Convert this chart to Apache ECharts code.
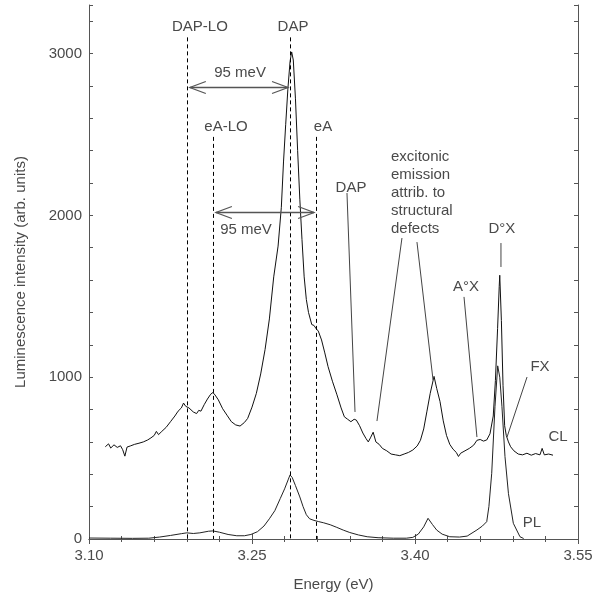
<!DOCTYPE html>
<html>
<head>
<meta charset="utf-8">
<script src="https://cdn.jsdelivr.net/npm/echarts@6/dist/echarts.min.js"></script>
<style>
  html, body { margin: 0; padding: 0; background: #fff; }
  #chart { width: 603px; height: 600px; }
</style>
</head>
<body>
<div id="chart"></div>
<script>
// CL spectrum
const clEnergy = [3.115, 3.118, 3.120, 3.123, 3.126, 3.129, 3.131, 3.133, 3.135, 3.138, 3.142, 3.146, 3.150, 3.154,
  3.157, 3.160, 3.162, 3.164, 3.167, 3.171, 3.175, 3.179, 3.182, 3.185, 3.187, 3.189, 3.192, 3.196, 3.199, 3.201,
  3.203, 3.206, 3.209, 3.212, 3.214, 3.216, 3.219, 3.223, 3.227, 3.231, 3.235, 3.239, 3.243, 3.246, 3.250, 3.254,
  3.258, 3.262, 3.266, 3.270, 3.274, 3.277, 3.279, 3.281, 3.283, 3.285, 3.2865, 3.288, 3.290, 3.292, 3.294, 3.296,
  3.298, 3.300, 3.302, 3.305, 3.307, 3.309, 3.311, 3.314, 3.317, 3.320, 3.324, 3.328, 3.332, 3.335, 3.338, 3.341,
  3.344, 3.346, 3.349, 3.352, 3.355, 3.357, 3.359, 3.3615, 3.364, 3.367, 3.370, 3.374, 3.378, 3.382, 3.386, 3.390,
  3.394, 3.398, 3.402, 3.405, 3.408, 3.411, 3.414, 3.4175, 3.420, 3.423, 3.426, 3.429, 3.432, 3.435, 3.438, 3.440,
  3.442, 3.446, 3.450, 3.454, 3.457, 3.460, 3.463, 3.466, 3.469, 3.472, 3.474, 3.476, 3.4775, 3.478, 3.4795, 3.481,
  3.4825, 3.484, 3.486, 3.488, 3.491, 3.495, 3.499, 3.503, 3.507, 3.511, 3.515, 3.517, 3.519, 3.523, 3.527];
const clIntensity = [570, 588, 562, 582, 566, 576, 552, 512, 568, 575, 585, 592, 600, 612,
  625, 640, 665, 645, 665, 690, 725, 760, 790, 810, 840, 820, 810, 785, 775, 795,
  790, 830, 865, 895, 905, 890, 860, 805, 765, 725, 705, 698, 720, 745, 815, 900,
  1020, 1170, 1360, 1620, 1810, 2050, 2330, 2560, 2780, 2950, 3010, 2960, 2720, 2400, 2100, 1850,
  1620, 1480, 1400, 1325, 1320, 1300, 1285, 1230, 1150, 1065, 975, 895, 810, 755, 740, 725,
  740, 735, 700, 655, 620, 600, 625, 660, 600, 585, 560, 545, 525, 520, 515, 525,
  535, 550, 575, 610, 680, 790, 900, 1005, 930, 850, 730, 640, 585, 555, 535, 510,
  530, 545, 560, 580, 610, 615, 605, 612, 650, 760, 980, 1300, 1560, 1630, 1350, 950,
  700, 640, 600, 570, 545, 525, 520, 530, 518, 528, 520, 560, 520, 525, 518];

// PL spectrum
const plEnergy = [3.100, 3.120, 3.140, 3.155, 3.165, 3.175, 3.185, 3.190, 3.196, 3.202, 3.210, 3.214, 3.220, 3.228,
  3.236, 3.243, 3.249, 3.255, 3.261, 3.266, 3.271, 3.276, 3.280, 3.2835, 3.285, 3.287, 3.290, 3.294, 3.297, 3.300,
  3.303, 3.307, 3.311, 3.316, 3.322, 3.328, 3.334, 3.340, 3.348, 3.356, 3.366, 3.380, 3.392, 3.398, 3.403, 3.408,
  3.412, 3.416, 3.420, 3.425, 3.432, 3.441, 3.448, 3.457, 3.462, 3.466, 3.468, 3.4706, 3.4736, 3.4761, 3.478,
  3.480, 3.4828, 3.486, 3.4905, 3.4966, 3.500];
const plIntensity = [6, 5, 4, 5, 12, 22, 33, 38, 34, 38, 48, 50, 42, 28,
  20, 20, 28, 45, 80, 125, 175, 250, 310, 370, 396, 380, 330, 260, 200, 150,
  125, 115, 108, 100, 88, 72, 55, 40, 25, 14, 8, 5, 5, 10, 30, 75,
  128, 90, 55, 30, 14, 12, 18, 56, 80, 107, 200, 406, 818, 1070, 1000,
  820, 510, 280, 97, 14, 3];

const xTicks = [3.10, 3.25, 3.40, 3.55];
const yTicks = [0, 1000, 2000, 3000];

// annotation layout (energy, intensity)
const dashLines = [[3.190, 3100], [3.285, 3100], [3.214, 2485], [3.309, 2485]];
const spanArrows = [[3.190, 3.285, 2793], [3.214, 3.309, 2021]];
const leaders = [
  [3.3374, 2138, 3.3448, 785],
  [3.3880, 1860, 3.3650, 729],
  [3.4018, 1835, 3.4166, 983],
  [3.4451, 1496, 3.4570, 630],
  [3.4791, 1829, 3.4791, 1681],
  [3.5031, 1001, 3.4847, 630]
];
const notes = [
  ['DAP-LO', 3.2021, 3164, 'center'],
  ['DAP', 3.2877, 3164, 'center'],
  ['eA-LO', 3.2261, 2546, 'center'],
  ['eA', 3.3153, 2546, 'center'],
  ['95 meV', 3.2390, 2880, 'center'],
  ['95 meV', 3.2445, 1910, 'center'],
  ['DAP', 3.3411, 2169, 'center'],
  ['excitonic\nemission\nattrib. to\nstructural\ndefects', 3.3779, 2140, 'left'],
  ['A°X', 3.4469, 1557, 'center'],
  ['D°X', 3.4800, 1916, 'center'],
  ['FX', 3.5150, 1063, 'center'],
  ['CL', 3.5316, 630, 'center'],
  ['PL', 3.5077, 99, 'center']
];

const textColor = '#4a4a4a';
const fontFam = '"Liberation Sans", Arial, sans-serif';

function pairs(xs, ys) {
  return xs.map((x, i) => [x, ys[i]]);
}

function renderNotes(params, api) {
  const kids = [];
  const px = v => Math.round(v) + 0.5;
  dashLines.forEach(d => {
    const a = api.coord([d[0], d[1]]);
    const b = api.coord([d[0], 0]);
    kids.push({
      type: 'line',
      shape: { x1: px(a[0]), y1: a[1], x2: px(b[0]), y2: b[1] },
      style: { stroke: '#000', lineWidth: 1, lineDash: [4, 3] }
    });
  });
  spanArrows.forEach(s => {
    const a = api.coord([s[0], s[2]]);
    const b = api.coord([s[1], s[2]]);
    const y = px(a[1]);
    kids.push({
      type: 'line',
      shape: { x1: a[0] + 3, y1: y, x2: b[0] - 2, y2: y },
      style: { stroke: '#555', lineWidth: 1.4 }
    });
    kids.push({
      type: 'polyline',
      shape: { points: [[a[0] + 19, y - 6], [a[0] + 3, y], [a[0] + 19, y + 6]] },
      style: { stroke: '#555', lineWidth: 1.2, fill: null }
    });
    kids.push({
      type: 'polyline',
      shape: { points: [[b[0] - 18, y - 6], [b[0] - 2, y], [b[0] - 18, y + 6]] },
      style: { stroke: '#555', lineWidth: 1.2, fill: null }
    });
  });
  leaders.forEach(l => {
    const a = api.coord([l[0], l[1]]);
    const b = api.coord([l[2], l[3]]);
    kids.push({
      type: 'line',
      shape: { x1: a[0], y1: a[1], x2: b[0], y2: b[1] },
      style: { stroke: '#444', lineWidth: 1 }
    });
  });
  notes.forEach(n => {
    const p = api.coord([n[1], n[2]]);
    kids.push({
      type: 'text',
      style: {
        text: n[0], x: p[0], y: p[1],
        fill: textColor, fontSize: 15, fontFamily: fontFam,
        align: n[3], verticalAlign: 'middle', lineHeight: 18
      }
    });
  });
  return { type: 'group', children: kids };
}

const frame = { show: true, lineStyle: { color: '#555', width: 1 } };

const chart = echarts.init(document.getElementById('chart'), null, { renderer: 'canvas' });
chart.setOption({
  animation: false,
  backgroundColor: '#fff',
  grid: { left: 89, right: 25, top: 5, bottom: 61, containLabel: false, outerBoundsMode: 'none' },
  xAxis: [{
    type: 'value', min: xTicks[0], max: xTicks[xTicks.length - 1], interval: xTicks[1] - xTicks[0],
    position: 'bottom',
    axisLine: frame,
    axisTick: { show: true, inside: true, length: 5, lineStyle: { color: '#555' } },
    minorTick: { show: true, splitNumber: 5, length: 3, lineStyle: { color: '#555' } },
    splitLine: { show: false },
    axisLabel: { color: textColor, fontSize: 15, fontFamily: fontFam, margin: 9, formatter: v => v.toFixed(2) },
    name: 'Energy (eV)', nameLocation: 'middle', nameGap: 38,
    nameTextStyle: { color: textColor, fontSize: 15, fontFamily: fontFam }
  }, {
    type: 'value', min: xTicks[0], max: xTicks[xTicks.length - 1], interval: xTicks[1] - xTicks[0],
    position: 'top',
    axisLine: frame,
    axisTick: { show: true, inside: true, length: 5, lineStyle: { color: '#555' } },
    minorTick: { show: true, splitNumber: 5, length: 3, lineStyle: { color: '#555' } },
    splitLine: { show: false },
    axisLabel: { show: false }
  }],
  yAxis: [{
    type: 'value', min: yTicks[0], max: 3300, interval: 200,
    position: 'left',
    axisLine: frame,
    axisTick: { show: true, inside: true, length: 4, lineStyle: { color: '#555' } },
    splitLine: { show: false },
    axisLabel: {
      color: textColor, fontSize: 15, fontFamily: fontFam, margin: 7,
      formatter: v => (yTicks.indexOf(v) >= 0 ? String(v) : '')
    },
    name: 'Luminescence intensity (arb. units)', nameLocation: 'middle', nameGap: 61,
    nameTextStyle: { color: textColor, fontSize: 15, fontFamily: fontFam }
  }, {
    type: 'value', min: yTicks[0], max: 3300, interval: 200,
    position: 'right',
    axisLine: frame,
    axisTick: { show: true, inside: true, length: 4, lineStyle: { color: '#555' } },
    splitLine: { show: false },
    axisLabel: { show: false }
  }],
  series: [{
    name: 'CL', type: 'line', data: pairs(clEnergy, clIntensity),
    showSymbol: false, symbol: 'none',
    lineStyle: { color: '#111', width: 1 }, z: 3
  }, {
    name: 'PL', type: 'line', data: pairs(plEnergy, plIntensity),
    showSymbol: false, symbol: 'none',
    lineStyle: { color: '#222', width: 1 }, z: 3
  }, {
    type: 'custom', renderItem: renderNotes, data: [[3.3, 0]],
    silent: true, clip: false, z: 4
  }]
});
</script>
</body>
</html>
